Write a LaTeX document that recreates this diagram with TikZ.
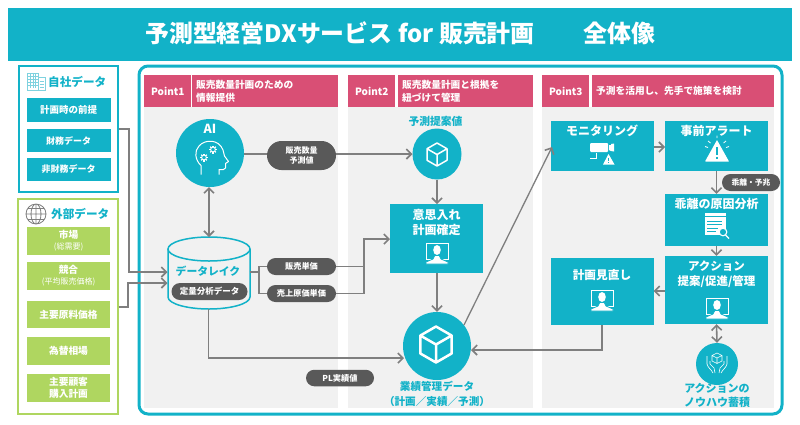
\documentclass[tikz,border=0pt]{standalone}
\usepackage{fontspec}
\setmainfont{Noto Sans CJK JP}
\usetikzlibrary{arrows.meta,shapes.geometric,shapes.misc,calc}
\definecolor{teal}{HTML}{12B2C8}
\definecolor{pinkh}{HTML}{D94F75}
\definecolor{leaf}{HTML}{AFD660}
\definecolor{wire}{HTML}{7F7F7F}
\definecolor{pilldark}{HTML}{595959}
\definecolor{panel}{HTML}{F1F1F1}
\definecolor{paleteal}{HTML}{7FD2DF}
\newcommand{\fs}[1]{\fontsize{#1}{14}\selectfont\bfseries}
\newcommand{\fsl}[2]{\fontsize{#1}{#2}\selectfont\bfseries}
\tikzset{
 x=1pt,y=-1pt,
 tealbox/.style={fill=teal,draw=none,inner sep=0pt,text=white,align=center},
 leafbox/.style={fill=leaf,draw=none,inner sep=0pt,text=white,align=center},
 headbox/.style={fill=pinkh,draw=none,inner sep=0pt,text=white,align=left,anchor=north west},
 panelbg/.style={fill=panel,draw=none},
 pillbox/.style={fill=pilldark,rounded rectangle,text=white,inner sep=0pt,align=center},
 boxtitle/.style={text=white,inner sep=0pt,align=center},
 teallabel/.style={text=teal,inner sep=0pt,align=center},
 wireline/.style={draw=wire,line width=1.6pt},
 arrowline/.style={wireline,-{Straight Barb[length=5pt,width=10pt,line width=1.6pt]}},
 biarrow/.style={wireline,{Straight Barb[length=5pt,width=10pt,line width=1.6pt]}-{Straight Barb[length=5pt,width=10pt,line width=1.6pt]}},
 cubeicon/.pic={
  \draw[white,line join=round,pic actions]
   (0,-1)--(.87,-.5)--(.87,.5)--(0,1)--(-.87,.5)--(-.87,-.5)--cycle
   (-.87,-.5)--(0,0)--(.87,-.5) (0,0)--(0,1);},
 personicon/.pic={
  \draw[white,line width=.9pt] (-11,-10) rectangle (11,6);
  \fill[white] (0,-3.5) ellipse (3.8 and 5);
  \draw[teal,line width=.8pt,fill=white] (-11,10.5)--(-11,8.5)--(-4,5.5)--(-2.2,2)--(2.2,2)--(4,5.5)--(11,8.5)--(11,10.5)--cycle;},
 gearicon/.pic={
  \draw[white,line width=.9pt] (0,0) circle (2.4);
  \foreach \a in {0,45,...,315}{\draw[white,line width=1.2pt] (\a:2.6)--(\a:4);}},
}
\begin{document}
\begin{tikzpicture}
\useasboundingbox (0,0) rectangle (800,424);
% banner
\fill[teal] (8,8) rectangle (792,61);
\node[anchor=west,text=white,inner sep=0pt] (title) at (145,33) {\fs{23.9}予測型経営DXサービス for 販売計画\hspace{49pt}全体像};

% main frame and panels
\draw[teal,line width=3pt,rounded corners=9pt] (139,66) rectangle (782,414);
\fill[panelbg] (144,107) rectangle (338,408);
\fill[panelbg] (348,107) rectangle (533,408);
\fill[panelbg] (542,107) rectangle (774,408);
\node[headbox,minimum width=47pt,minimum height=32pt,align=center] (p1) at (144,75) {\fs{10}Point1};
\node[headbox,minimum width=146pt,minimum height=32pt,text width=142pt,font={\fsl{9.7}{13}}] (p1t) at (192,75) {\hspace*{2pt}販売数量計画のための\\\hspace*{2pt}情報提供};
\node[headbox,minimum width=47pt,minimum height=32pt,align=center] (p2) at (348,75) {\fs{10}Point2};
\node[headbox,minimum width=135pt,minimum height=32pt,text width=131pt,font={\fsl{9.7}{13}}] (p2t) at (398,75) {\hspace*{2pt}販売数量計画と根拠を\\\hspace*{2pt}紐づけて管理};
\node[headbox,minimum width=47pt,minimum height=32pt,align=center] (p3) at (542,75) {\fs{10}Point3};
\node[headbox,minimum width=182pt,minimum height=32pt,text width=178pt] (p3t) at (592,75) {\hspace*{2pt}\fs{9.7}予測を活用し、先手で施策を検討};

% own data
\node[draw=teal,line width=1.5pt,minimum width=99pt,minimum height=126pt,inner sep=0pt] (own) at (68.5,129) {};
\fill[white,draw=paleteal,line width=.8pt] (27.5,73.5) rectangle (38,90.5);
\fill[white,draw=paleteal,line width=.8pt] (38,77.5) rectangle (45,90.5);
\foreach \yy in {76.5,79.5,82.5,85.5}{\draw[paleteal,line width=.8pt] (28,\yy)--(37.5,\yy);}
\foreach \xx in {30.5,33,35.5}{\draw[paleteal,line width=.8pt] (\xx,74)--(\xx,88);}
\foreach \yy in {81,84,87}{\draw[paleteal,line width=1pt] (39.5,\yy)--(43.5,\yy);}
\node[teallabel,anchor=west] (ownt) at (48,82) {\fs{11.6}自社データ};
\node[tealbox,minimum width=84pt,minimum height=24pt] (o1) at (68.5,110) {\fs{9.5}計画時の前提};
\node[tealbox,minimum width=84pt,minimum height=23pt] (o2) at (68.5,140.5) {\fs{9}財務データ};
\node[tealbox,minimum width=84pt,minimum height=23pt] (o3) at (68.5,169.5) {\fs{9}非財務データ};

% external data
\node[draw=leaf,line width=1.5pt,minimum width=100pt,minimum height=215pt,inner sep=0pt] (ext) at (68,306.5) {};
\draw[wire,line width=.8pt] (36,214) circle (10) (36,214) ellipse (5 and 10) (26,214)--(46,214) (36,204)--(36,224) (27.5,208.5)--(44.5,208.5) (27.5,219.5)--(44.5,219.5);
\node[teallabel,anchor=west] (extt) at (51,214) {\fs{11.6}外部データ};
\node[leafbox,minimum width=83pt,minimum height=28pt,font={\fsl{9.7}{11}}] (e1) at (68.5,241) {市場\\{\fontsize{8}{11}\selectfont\mdseries (総需要)}};
\node[leafbox,minimum width=83pt,minimum height=28pt,font={\fsl{9.7}{11}}] (e2) at (68.5,276) {競合\\{\fontsize{8}{11}\selectfont\mdseries (平均販売価格)}};
\node[leafbox,minimum width=83pt,minimum height=27pt] (e3) at (68.5,314.5) {\fs{9.7}主要原料価格};
\node[leafbox,minimum width=83pt,minimum height=28pt] (e4) at (68.5,351) {\fs{9.7}為替相場};
\node[leafbox,minimum width=83pt,minimum height=28pt,font={\fsl{9.7}{12}}] (e5) at (68.5,388) {主要顧客\\購入計画};

% AI
\node[circle,fill=teal,minimum size=68pt,inner sep=0pt] (ai) at (210,153) {};
\node[boxtitle] (ait) at (210,128.5) {\fs{12.5}AI};
\draw[white,line width=1pt,line join=round] (201,174.5)--(201,165.5) .. controls (195,160) and (194,151) .. (199,146) .. controls (205,139) and (219,139) .. (223,150) .. controls (224,153) and (224,155) .. (224.5,156) -- (228.5,161.5) -- (225.5,163.5) -- (225.5,168) .. controls (225,170) and (222,170) .. (219,169.5) -- (219,174.5);
\pic at (204,157.5) {gearicon};
\pic at (213,149.5) {gearicon};

% data lake
\node[minimum width=82pt,minimum height=72pt,inner sep=0pt] (lake) at (209,273) {};
\draw[teal,line width=1.5pt,fill=panel] (168,249)--(168,297) .. controls (168,304) and (188,309) .. (209,309) .. controls (230,309) and (250,304) .. (250,297)--(250,249);
\node[ellipse,draw=teal,line width=1.5pt,fill=panel,minimum width=82pt,minimum height=24pt,inner sep=0pt] (laketop) at (209,249) {};
\node[teallabel] (laket) at (208,271) {\fs{10.8}データレイク};
\node[pillbox,minimum width=76pt,minimum height=17pt] (qa) at (209.5,291.5) {\fs{8.5}定量分析データ};

% prediction circle and decide box
\node[ellipse,fill=teal,minimum width=49pt,minimum height=51pt,inner sep=0pt] (pred) at (437,154) {};
\pic[line width=1.5pt,scale=11.5] at (437,154.5) {cubeicon};
\node[teallabel] (predt) at (435.5,121.5) {\fs{10.8}予測提案値};
\node[tealbox,minimum width=93pt,minimum height=69pt] (dec) at (436.5,238.5) {};
\node[boxtitle,font={\fsl{12}{14.5}}] (dect) at (436.5,222.5) {意思入れ\\計画確定};
\pic at (437,253.5) {personicon};

% results circle
\node[circle,fill=teal,minimum size=68pt,inner sep=0pt] (res) at (437,346) {};
\pic[line width=2.5pt,scale=18] at (436,344.5) {cubeicon};
\node[teallabel,font={\fsl{10.6}{14.5}}] (rest) at (437,394) {業績管理データ\\（計画／実績／予測）};

% pills
\node[pillbox,minimum width=69pt,minimum height=29pt,font={\fsl{8}{10.5}}] (pv) at (301.5,155.5) {販売数量\\予測値};
\node[pillbox,minimum width=69pt,minimum height=17pt] (up) at (301.5,266.5) {\fs{8.2}販売単価};
\node[pillbox,minimum width=69pt,minimum height=17pt] (uc) at (301.5,293.5) {\fs{8.2}売上原価単価};
\node[pillbox,minimum width=68pt,minimum height=16.5pt] (pl) at (340,378) {\fs{8.2}PL実績値};

% panel 3 boxes
\node[tealbox,minimum width=103pt,minimum height=50pt] (mon) at (602,146) {};
\node[boxtitle] (mont) at (602,130.5) {\fs{12}モニタリング};
\fill[white,rounded corners=1pt] (590,143) rectangle (608,152);
\fill[white] (609,145)--(611,145)--(611,144)--(614,143.5)--(614,151.5)--(611,151)--(609,150)--cycle;
\draw[white,line width=.8pt] (590,158)--(596,158)--(596,153);
\fill[white] (608.5,154)--(614.5,164.5)--(603,164.5)--cycle;
\draw[teal,line width=.9pt] (608.7,157.5)--(608.7,161) (608.7,162)--(608.7,163.2);

\node[tealbox,minimum width=103pt,minimum height=50pt] (alert) at (716.5,146) {};
\node[boxtitle] (alertt) at (716.5,130.5) {\fs{12}事前アラート};
\fill[white,rounded corners=.5pt] (717,140)--(729,161.5)--(705,161.5)--cycle;
\draw[teal,line width=1.6pt] (717,147)--(717,155) (717,156.8)--(717,159);
\draw[white,line width=.8pt] (717,135.5)--(717,138) (708,141)--(710.5,143) (726,141)--(723.5,143) (705,146.5)--(708,147.5) (729,146.5)--(726,147.5);

\node[tealbox,minimum width=103pt,minimum height=52pt] (gap) at (716.5,220) {};
\node[boxtitle] (gapt) at (716.5,203.5) {\fs{12}乖離の原因分析};
\fill[white] (704.5,213) rectangle (726,235);
\draw[teal,line width=.8pt] (704.5,216.5)--(726,216.5);
\draw[teal,line width=1pt] (707,221)--(722,221) (707,224.5)--(722,224.5) (707,228)--(718,228) (707,231.5)--(716,231.5);
\draw[white,line width=1.1pt,fill=teal] (723,232) circle (3.8);
\draw[white,line width=1.2pt] (725.5,235)--(729,238.5);

\node[tealbox,minimum width=103pt,minimum height=68pt] (act) at (716.5,290) {};
\node[boxtitle,font={\fsl{11.5}{15}}] (actt) at (716.5,274.5) {アクション\\提案/促進/管理};
\pic at (717,308.5) {personicon};

\node[tealbox,minimum width=103pt,minimum height=67pt] (rev) at (602,291.5) {};
\node[boxtitle] (revt) at (602,275.5) {\fs{11.7}計画見直し};
\pic at (602,300.5) {personicon};

% knowhow circle
\node[circle,fill=teal,minimum size=42pt,inner sep=0pt] (know) at (717,364) {};
\begin{scope}[white,line width=.6pt,line join=round]
\draw (717,353)--(722,355.5)--(722,361)--(717,363.5)--(712,361)--(712,355.5)--cycle (712,355.5)--(717,358)--(722,355.5) (717,358)--(717,363.5);
\draw (707,356)--(707,364) .. controls (708,368) and (711,369) .. (713,373) (710,361)--(710,364) -- (714,368) -- (715,373);
\draw (727,356)--(727,364) .. controls (726,368) and (723,369) .. (721,373) (724,361)--(724,364) -- (720,368) -- (719,373);
\end{scope}
\node[teallabel,font={\fsl{11}{14}}] (knowt) at (717,395) {アクションの\\ノウハウ蓄積};

% connectors
\coordinate (ownout) at (118.5,129);
\coordinate (lakein1) at (167.5,272);
\coordinate (extout) at (118.5,307);
\coordinate (lakein2) at (167.5,283);
\draw[arrowline] (ownout)--(129,129)--(129,272)--(lakein1);
\draw[arrowline] (extout)--(128,307)--(128,283)--(lakein2);
\coordinate (lakein3) at (209,237);
\coordinate (aiin) at (209,187);
\draw[biarrow] (aiin)--(lakein3);
\coordinate (aiout) at (244,154);
\coordinate (pvin) at (267,154);
\coordinate (pvout) at (336,154);
\coordinate (predin) at (412.5,154);
\draw[wireline] (aiout)--(pvin);
\draw[arrowline] (pvout)--(predin);
\coordinate (decin0) at (437,204);
\draw[arrowline] (pred.south)--(decin0);
\coordinate (lakeout) at (249.5,272);
\coordinate (fork) at (259,272);
\coordinate (fork1) at (259,266.5);
\coordinate (fork2) at (259,293.5);
\draw[wireline] (lakeout)--(fork)--(fork1)--(up.west);
\draw[wireline] (fork)--(fork2)--(uc.west);
\coordinate (decin) at (390,239);
\coordinate (m1) at (364,266.5);
\coordinate (m2) at (364,293.5);
\coordinate (m3) at (364,239);
\draw[wireline] (up.east)--(m1);
\draw[arrowline] (uc.east)--(m2)--(m3)--(decin);
\coordinate (decout) at (437,273);
\draw[arrowline] (decout)--(res.north);
\coordinate (lakedown) at (208.5,309);
\coordinate (lakebend) at (208.5,358);
\coordinate (resin1) at (404,358);
\draw[arrowline] (lakedown)--(lakebend)--(resin1);
\coordinate (resout) at (464,325);
\coordinate (monin) at (552,147);
\draw[arrowline,line width=1.3pt] (resout)--(monin);
\coordinate (monout) at (653.5,147);
\coordinate (alertin) at (665,147);
\draw[arrowline] (monout)--(alertin);
\draw[arrowline] (alert.south)--(gap.north);
\draw[arrowline] (gap.south)--(act.north);
\coordinate (actout) at (665,291);
\coordinate (revin) at (653.5,291);
\draw[arrowline] (actout)--(revin);
\coordinate (resin2) at (471,350);
\coordinate (revbend) at (602,350);
\draw[arrowline] (rev.south)--(revbend)--(resin2);
\draw[biarrow] (act.south)--(know.north);
\node[pillbox,minimum width=58pt,minimum height=17pt] (gp) at (751,182.5) {\fs{7.8}乖離・予兆};
\end{tikzpicture}
\end{document}
